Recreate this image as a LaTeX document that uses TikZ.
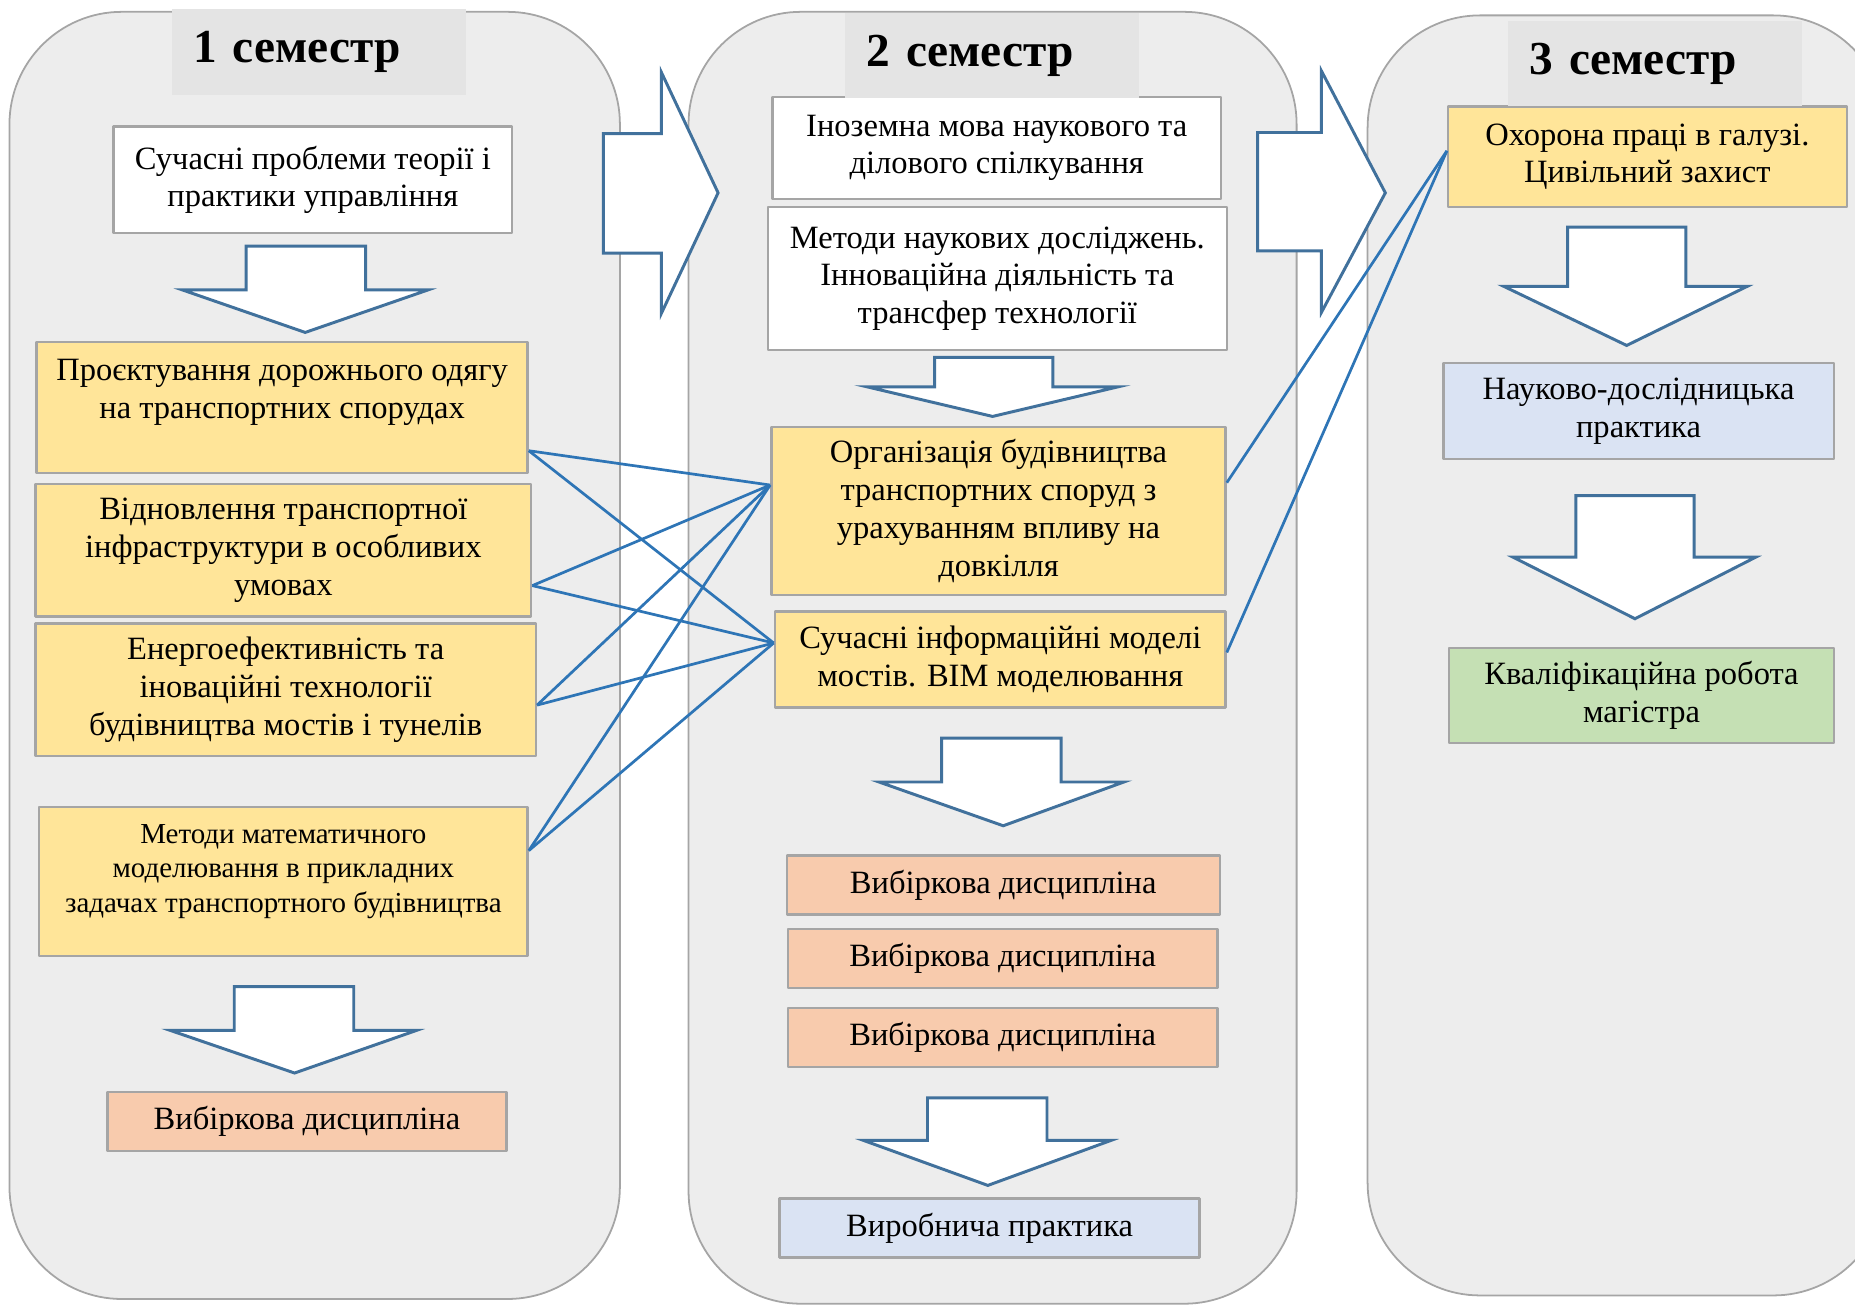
\documentclass[tikz,border=0pt]{standalone}
\usepackage{fontspec}
\setmainfont{Liberation Serif}
\definecolor{ededed}{rgb}{0.929,0.929,0.929}
\definecolor{eaeaea}{rgb}{0.894,0.894,0.894}
\definecolor{aaaaaa}{rgb}{0.647,0.647,0.647}
\definecolor{ffe599}{rgb}{1.,0.898,0.6}
\definecolor{f8cbad}{rgb}{0.973,0.796,0.678}
\definecolor{dae3f3}{rgb}{0.855,0.89,0.953}
\definecolor{c5e0b4}{rgb}{0.773,0.878,0.706}
\definecolor{qqlrrc}{rgb}{0.255,0.443,0.612}
\definecolor{cclsbb}{rgb}{0.18,0.459,0.714}

\begin{document}
\begin{tikzpicture}[line join=round,x=1pt,y=-1pt,
  panel/.style={draw=aaaaaa,line width=1.5pt,fill=ededed,rounded corners=95pt},
  bigarrow/.style={draw=qqlrrc,line width=2.5pt,fill=white,line join=miter},
  box/.style={draw=aaaaaa,line width=2pt,align=center,inner sep=0pt,font=\fontsize{27.5}{32}\selectfont},
  whitebox/.style={box,fill=white},
  yellowbox/.style={box,fill=ffe599},
  peachbox/.style={box,fill=f8cbad},
  bluebox/.style={box,fill=dae3f3},
  greenbox/.style={box,fill=c5e0b4},
  semtitle/.style={fill=eaeaea,inner xsep=18pt,inner ysep=0pt,text width=212pt,align=left,minimum height=72pt,font=\fontsize{40}{46}\selectfont\bfseries},
  link/.style={draw=cclsbb,line width=2.3pt}]
\useasboundingbox (0,0) rectangle (1568,1103);
\clip (0,0) rectangle (1568,1103);
% panels
\draw [panel] (8,10) rectangle (524,1098);
\draw [panel] (582,10) rectangle (1096,1102);
\draw [panel] (1156,13) rectangle (1594,1095);
% arrows between semesters
\draw [bigarrow] (510,113) -- (559,113) -- (559,61) -- (607,163) -- (559,265) -- (559,214) -- (510,214) -- cycle;
\draw [bigarrow] (1063,112) -- (1117,112) -- (1117,60) -- (1171,163) -- (1117,264) -- (1117,212) -- (1063,212) -- cycle;
% arrows down
\draw [bigarrow] (208,208) -- (309,208) -- (309,245) -- (362,245) -- (258,281) -- (154,245) -- (208,245) -- cycle;
\draw [bigarrow] (198,834) -- (299,834) -- (299,871) -- (352,871) -- (249,907) -- (144,871) -- (198,871) -- cycle;
\draw [bigarrow] (790,302) -- (890,302) -- (890,327) -- (945,327) -- (839,352) -- (733,327) -- (790,327) -- cycle;
\draw [bigarrow] (796,624) -- (897,624) -- (897,661) -- (950,661) -- (848,698) -- (743,661) -- (796,661) -- cycle;
\draw [bigarrow] (784,928) -- (885,928) -- (885,964) -- (939,964) -- (835,1002) -- (730,964) -- (784,964) -- cycle;
\draw [bigarrow] (1325,192) -- (1425,192) -- (1425,242) -- (1477,242) -- (1375,292) -- (1271,242) -- (1325,242) -- cycle;
\draw [bigarrow] (1332,419) -- (1432,419) -- (1432,471) -- (1484,471) -- (1382,523) -- (1279,471) -- (1332,471) -- cycle;
% 1 semester
\node [whitebox,minimum width=337pt,minimum height=90pt] (b11) at (264.5,152) {Сучасні проблеми теорії і\\практики управління};
\node [yellowbox,minimum width=415pt,minimum height=111pt] (b12) at (238.5,344.5) {Проєктування дорожнього одягу\\на транспортних спорудах\\\mbox{}};
\node [yellowbox,minimum width=419pt,minimum height=112pt] (b13) at (239.5,465) {Відновлення транспортної\\інфраструктури в особливих\\умовах};
\node [yellowbox,minimum width=423pt,minimum height=112pt] (b14) at (241.5,583) {Енергоефективність та\\іноваційні технології\\будівництва мостів і тунелів};
\node [yellowbox,minimum width=413pt,minimum height=126pt,font=\fontsize{24.5}{29}\selectfont] (b15) at (239.5,745) {Методи математичного\\моделювання в прикладних\\задачах транспортного будівництва\\[-7pt]\mbox{}};
\node [peachbox,minimum width=337pt,minimum height=50pt] (b16) at (259.5,948) {Вибіркова дисципліна};
% 2 semester
\node [whitebox,minimum width=379pt,minimum height=86pt] (b21) at (842.5,125) {Іноземна мова наукового та\\ділового спілкування};
\node [whitebox,minimum width=388pt,minimum height=121pt] (b22) at (843,235.5) {Методи наукових досліджень.\\Інноваційна діяльність та\\трансфер технології};
\node [yellowbox,minimum width=384pt,minimum height=142pt] (b23) at (844,432) {Організація будівництва\\транспортних споруд з\\урахуванням впливу на\\довкілля};
\node [yellowbox,minimum width=381pt,minimum height=81pt] (b24) at (845.5,557.5) {Сучасні інформаційні моделі\\мостів. BIM моделювання};
\node [peachbox,minimum width=366pt,minimum height=50pt] (b25) at (848,748) {Вибіркова дисципліна};
\node [peachbox,minimum width=363pt,minimum height=50pt] (b26) at (847.5,810) {Вибіркова дисципліна};
\node [peachbox,minimum width=363pt,minimum height=50pt] (b27) at (847.5,877) {Вибіркова дисципліна};
\node [bluebox,minimum width=355pt,minimum height=50pt] (b28) at (836.5,1038) {Виробнича практика};
% 3 semester
\node [yellowbox,minimum width=337pt,minimum height=85pt] (b31) at (1392.5,132.5) {Охорона праці в галузі.\\Цивільний захист};
\node [bluebox,minimum width=330pt,minimum height=81pt] (b32) at (1385,347.5) {Науково-дослідницька\\практика};
\node [greenbox,minimum width=325pt,minimum height=80pt] (b33) at (1387.5,588) {Кваліфікаційна робота\\магістра};
% titles
\node [semtitle] (t1) at (269.5,44) {1 семестр};
\node [semtitle] (t2) at (838.5,47) {2 семестр};
\node [semtitle] (t3) at (1399,54) {3 семестр};
% links
\draw [link] ([yshift=-36.5pt]b12.east) -- ([yshift=22pt]b23.west);
\draw [link] ([yshift=-36.5pt]b12.east) -- ([yshift=14pt]b24.west);
\draw [link] ([yshift=-30pt]b13.east) -- ([yshift=22pt]b23.west);
\draw [link] ([yshift=-30pt]b13.east) -- ([yshift=14pt]b24.west);
\draw [link] ([yshift=-13pt]b14.east) -- ([yshift=22pt]b23.west);
\draw [link] ([yshift=-13pt]b14.east) -- ([yshift=14pt]b24.west);
\draw [link] ([yshift=26pt]b15.east) -- ([yshift=22pt]b23.west);
\draw [link] ([yshift=26pt]b15.east) -- ([yshift=14pt]b24.west);
\draw [link] ([yshift=24pt]b23.east) -- ([yshift=5pt]b31.west);
\draw [link] ([yshift=6pt]b24.east) -- ([yshift=5pt]b31.west);
\end{tikzpicture}
\end{document}
